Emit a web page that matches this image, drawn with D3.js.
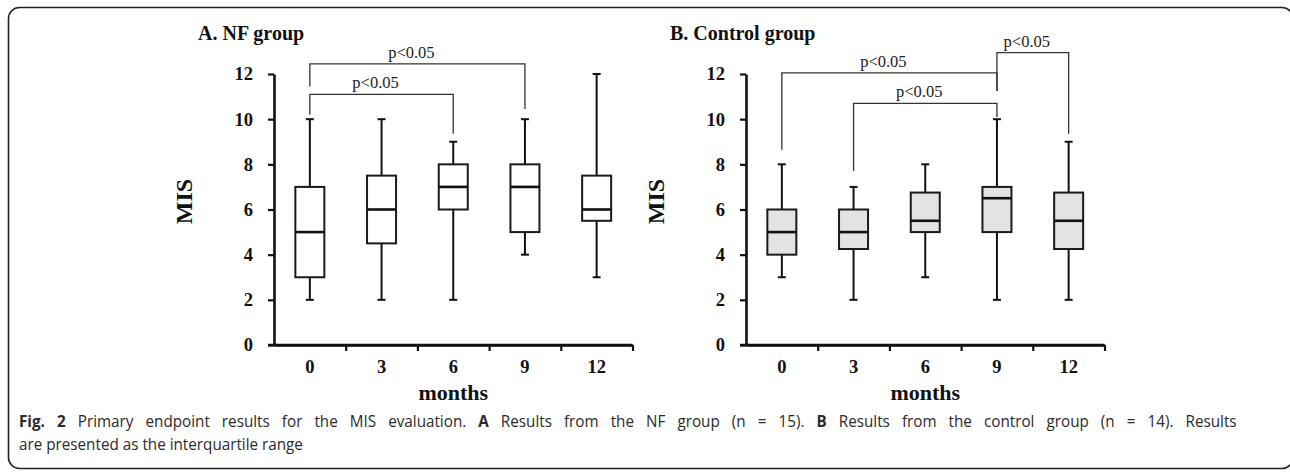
<!DOCTYPE html>
<html>
<head>
<meta charset="utf-8">
<script src="https://cdn.jsdelivr.net/npm/d3@7"></script>
<style>
  body { margin: 0; background: #fff; }
  svg { display: block; }
</style>
</head>
<body>
<svg width="1290" height="472"></svg>
<script>
// ************** Data *****************

const months = ["0", "3", "6", "9", "12"];
const yTicks = [0, 2, 4, 6, 8, 10, 12];

// NF group (panel A)
const nfMin = [2, 2, 2, 4, 3];
const nfQ1  = [3, 4.5, 6, 5, 5.5];
const nfMed = [5, 6, 7, 7, 6];
const nfQ3  = [7, 7.5, 8, 8, 7.5];
const nfMax = [10, 10, 9, 10, 12];

// Control group (panel B)
const ctlMin = [3, 2, 3, 2, 2];
const ctlQ1  = [4, 4.25, 5, 5, 4.25];
const ctlMed = [5, 5, 5.5, 6.5, 5.5];
const ctlQ3  = [6, 6, 6.75, 7, 6.75];
const ctlMax = [8, 7, 8, 10, 9];

// significance brackets: [from, to, bar level, left leg end, right leg end]
const nfBrackets = [
  ["0", "9", 12.45, 11.45, 10.45],
  ["0", "6", 11.1, 10.2, 9.35]
];
const ctlBrackets = [
  ["0", "9", 12.05, 8.65, 11.25],
  ["3", "9", 10.7, 7.7, 10.1],
  ["9", "12", 12.95, 11.25, 9.35]
];
const sigLabel = "p<0.05";

// *************** Setup *****************

let svg = d3.select("svg");
const serif = "'Liberation Serif', 'Times New Roman', serif";

// frame around the figure (runs off the right edge)
svg.append("rect")
  .attr("x", 8.5).attr("y", 7.5)
  .attr("width", 1284.5).attr("height", 461)
  .attr("rx", 11).attr("ry", 11)
  .attr("fill", "none")
  .attr("stroke", "#222")
  .attr("stroke-width", 1.6);

const plotTop = 74, plotBottom = 345;
const yScale = d3.scaleLinear().domain([0, 12]).range([plotBottom, plotTop]);

function rows(mins, q1, med, q3, maxs) {
  return months.map((m, i) => ({ m: m, min: mins[i], q1: q1[i], med: med[i], q3: q3[i], max: maxs[i] }));
}

function drawPanel(left, title, data, brackets, fill) {
  const right = left + 358.5;
  let xScale = d3.scaleBand().domain(months).range([left, right]);
  let tickScale = d3.scaleLinear().domain([0, months.length]).range([left, right]);
  let g = svg.append("g");

  // y axis
  let yAxis = g.append("g")
    .attr("transform", "translate(" + left + ",0)")
    .call(d3.axisLeft(yScale).tickValues(yTicks).tickSize(6).tickSizeOuter(0).tickPadding(15));
  // x axis: boundary ticks
  let xAxis = g.append("g")
    .attr("transform", "translate(0," + plotBottom + ")")
    .call(d3.axisBottom(tickScale).tickValues(d3.range(1, months.length + 1)).tickSize(6).tickSizeOuter(0).tickFormat(""));
  // x labels at band centres
  let xLab = g.append("g")
    .attr("transform", "translate(0," + plotBottom + ")")
    .call(d3.axisBottom(xScale).tickSize(0).tickPadding(15));
  xLab.select(".domain").remove();

  [yAxis, xAxis].forEach(a => {
    a.select(".domain").attr("stroke", "#111").attr("stroke-width", 2.6);
    a.selectAll(".tick line").attr("stroke", "#111").attr("stroke-width", 2.2);
  });
  [yAxis, xLab].forEach(a => {
    a.selectAll(".tick text")
      .attr("fill", "#111")
      .style("font-family", serif)
      .style("font-weight", "bold")
      .style("font-size", "18.5px");
  });
  // x axis line also reaches over the y tick at 0
  g.append("line")
    .attr("x1", left - 6).attr("x2", right)
    .attr("y1", plotBottom).attr("y2", plotBottom)
    .attr("stroke", "#111").attr("stroke-width", 2.6);

  // title and axis titles
  g.append("text")
    .attr("x", left - 76).attr("y", 40)
    .style("font-family", serif).style("font-weight", "bold").style("font-size", "20px")
    .attr("fill", "#111")
    .text(title);
  g.append("text")
    .attr("transform", "translate(" + (left - 82) + "," + ((plotTop + plotBottom) / 2 - 8) + ") rotate(-90)")
    .attr("text-anchor", "middle")
    .style("font-family", serif).style("font-weight", "bold").style("font-size", "24px")
    .attr("fill", "#111")
    .text("MIS");
  g.append("text")
    .attr("x", (left + right) / 2).attr("y", 400)
    .attr("text-anchor", "middle")
    .style("font-family", serif).style("font-weight", "bold").style("font-size", "22px")
    .attr("fill", "#111")
    .text("months");

  // boxes
  const bw = 29, cap = 8;
  let box = g.selectAll(".box").data(data).enter().append("g").attr("class", "box");
  const cx = d => xScale(d.m) + xScale.bandwidth() / 2;

  box.append("line")   // whisker
    .attr("x1", cx).attr("x2", cx)
    .attr("y1", d => yScale(d.min)).attr("y2", d => yScale(d.max))
    .attr("stroke", "#111").attr("stroke-width", 2);
  box.append("line")   // lower cap
    .attr("x1", d => cx(d) - cap / 2).attr("x2", d => cx(d) + cap / 2)
    .attr("y1", d => yScale(d.min)).attr("y2", d => yScale(d.min))
    .attr("stroke", "#111").attr("stroke-width", 2);
  box.append("line")   // upper cap
    .attr("x1", d => cx(d) - cap / 2).attr("x2", d => cx(d) + cap / 2)
    .attr("y1", d => yScale(d.max)).attr("y2", d => yScale(d.max))
    .attr("stroke", "#111").attr("stroke-width", 2);
  box.append("rect")
    .attr("x", d => cx(d) - bw / 2)
    .attr("y", d => yScale(d.q3))
    .attr("width", bw)
    .attr("height", d => yScale(d.q1) - yScale(d.q3))
    .attr("fill", fill)
    .attr("stroke", "#1a1a1a").attr("stroke-width", 2);
  box.append("line")   // median
    .attr("x1", d => cx(d) - bw / 2).attr("x2", d => cx(d) + bw / 2)
    .attr("y1", d => yScale(d.med)).attr("y2", d => yScale(d.med))
    .attr("stroke", "#111").attr("stroke-width", 2.6);

  // significance brackets
  brackets.forEach(b => {
    const x1 = cx({ m: b[0] }), x2 = cx({ m: b[1] });
    const yl = yScale(b[2]);
    g.append("path")
      .attr("d", "M" + x1 + "," + yScale(b[3]) + "V" + yl + "H" + x2 + "V" + yScale(b[4]))
      .attr("fill", "none")
      .attr("stroke", "#333").attr("stroke-width", 1.3);
    g.append("text")
      .attr("x", (x1 + x2) / 2 - 6).attr("y", yl - 6)
      .attr("text-anchor", "middle")
      .style("font-family", serif).style("font-size", "16.5px")
      .attr("fill", "#222")
      .text(sigLabel);
  });
}

drawPanel(274, "A. NF group", rows(nfMin, nfQ1, nfMed, nfQ3, nfMax), nfBrackets, "#fff");
drawPanel(746, "B. Control group", rows(ctlMin, ctlQ1, ctlMed, ctlQ3, ctlMax), ctlBrackets, "#e3e3e3");

// caption: slightly condensed, first line justified to the full width
const sans = "'Open Sans', 'Noto Sans', sans-serif";
let capG = svg.append("g");
let cap1 = capG.append("text")
  .attr("x", 0).attr("y", 427)
  .style("font-family", sans).style("font-size", "16.5px")
  .attr("fill", "#2a2a2a");
cap1.append("tspan").style("font-weight", "bold").text("Fig. 2");
cap1.append("tspan").text(" Primary endpoint results for the MIS evaluation. ");
cap1.append("tspan").style("font-weight", "bold").text("A");
cap1.append("tspan").text(" Results from the NF group (n = 15). ");
cap1.append("tspan").style("font-weight", "bold").text("B");
cap1.append("tspan").text(" Results from the control group (n = 14). Results");

let cap2 = capG.append("text")
  .attr("x", 0).attr("y", 450)
  .style("font-family", sans).style("font-size", "16.5px")
  .attr("fill", "#2a2a2a")
  .text("are presented as the interquartile range");

const k = 284 / cap2.node().getComputedTextLength();
const gaps = cap1.text().split(" ").length - 1;
const extra = (1218 / k - cap1.node().getComputedTextLength()) / gaps;
cap1.style("word-spacing", extra + "px");
capG.attr("transform", "translate(19,0) scale(" + k + ",1)");
</script>
</body>
</html>
